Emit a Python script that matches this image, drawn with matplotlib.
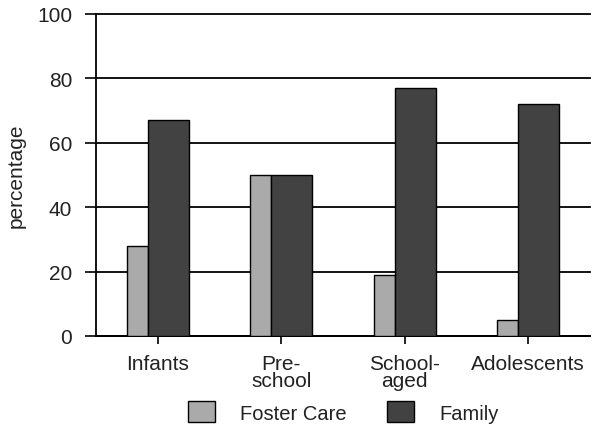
import matplotlib
matplotlib.use("Agg")
import matplotlib.pyplot as plt
import numpy as np

plt.rcParams['font.family'] = ['Liberation Sans', 'DejaVu Sans']

categories = ["Infants", "Pre-\nschool", "School-\naged", "Adolescents"]
foster_care = [28, 50, 19, 5]
family = [67, 50, 77, 72]
y_ticks = [0, 20, 40, 60, 80, 100]

fig = plt.figure(figsize=(5.98, 4.27), dpi=100)
ax = fig.add_axes([0.1605, 0.2108, 0.8261, 0.7541])

x = np.arange(len(categories))
w_foster = 0.17
w_family = 0.33
left = x - 0.25

ax.bar(left, foster_care, width=w_foster, align='edge', color='#aaaaaa',
       edgecolor='black', linewidth=1.0, label='Foster Care', zorder=3)
ax.bar(left + w_foster, family, width=w_family, align='edge', color='#424242',
       edgecolor='black', linewidth=1.0, label='Family', zorder=3)

ax.set_xlim(-0.5, 3.5)
ax.set_ylim(0, 100)
ax.set_yticks(y_ticks)
ax.set_xticks(x)
ax.set_xticklabels(categories, fontsize=15, linespacing=0.85)
ax.tick_params(axis='y', labelsize=15, length=8, width=1.2, pad=9, colors='black')
ax.tick_params(axis='x', length=6, width=1.2, pad=7, colors='black')
for lab in ax.get_yticklabels() + ax.get_xticklabels():
    lab.set_color('#222222')

ax.yaxis.grid(True, color='black', linewidth=1.3, zorder=0)
ax.set_axisbelow(True)
for g in ax.get_ygridlines():
    g.set_clip_on(False)

ax.spines['top'].set_visible(False)
ax.spines['right'].set_visible(False)
ax.spines['left'].set_linewidth(1.3)
ax.spines['bottom'].set_linewidth(1.3)

ax.set_ylabel("percentage", fontsize=15, labelpad=8, color='#222222')

fig.legend(loc='center', bbox_to_anchor=(0.574, 0.033), ncol=2, frameon=False,
           fontsize=14.5, handlelength=1.35, handleheight=1.25,
           handletextpad=1.25, columnspacing=2.0, labelcolor='#222222')

fig.savefig("out.png", dpi=100)
